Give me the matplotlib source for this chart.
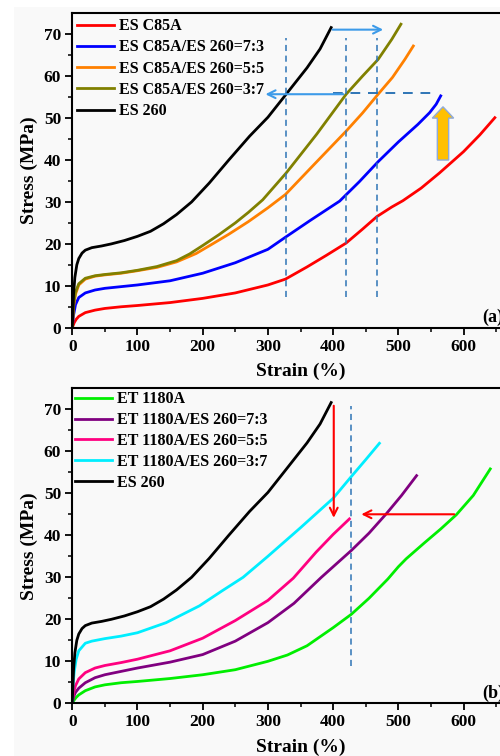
import numpy as np
import matplotlib
matplotlib.use('Agg')
import matplotlib.pyplot as plt
from matplotlib.patches import FancyArrow, Rectangle

plt.rcParams['font.family'] = ['Liberation Serif', 'DejaVu Serif']
plt.rcParams['font.weight'] = 'bold'

# ---- panel (a) data: strain (%) / stress (MPa)
es260_x = [0, 1, 2, 4, 7, 10, 15, 20, 30, 45, 60, 80, 100, 120, 140, 160, 183, 210, 240, 272, 300, 328, 360, 380, 397]
es260_y = [0, 4, 8, 12, 15, 16.5, 17.8, 18.5, 19.1, 19.5, 20, 20.8, 21.8, 23, 24.8, 27, 30, 34.5, 40, 45.7, 50.2, 55.7, 62, 66.5, 71.6]

c85_x = [0, 3, 6, 10, 20, 35, 50, 75, 100, 150, 200, 250, 300, 327, 360, 390, 420, 445, 467, 490, 507, 535, 563, 600, 625, 648]
c85_y = [0, 1.2, 2, 2.7, 3.6, 4.2, 4.6, 5, 5.3, 6, 7, 8.3, 10.2, 11.6, 14.5, 17.3, 20.2, 23.5, 26.5, 28.8, 30.3, 33.3, 36.9, 42, 46, 50.1]

c73_x = [0, 2, 5, 10, 20, 35, 50, 75, 100, 150, 200, 250, 300, 327, 365, 410, 440, 469, 500, 530, 548, 558, 565]
c73_y = [0, 3, 5.5, 7.2, 8.3, 9, 9.4, 9.8, 10.2, 11.2, 13, 15.5, 18.7, 21.6, 25.6, 30.2, 34.8, 39.6, 44.3, 48.5, 51.3, 53.3, 55.3]

c55_x = [0, 2, 5, 10, 20, 35, 50, 75, 100, 130, 160, 190, 213, 240, 270, 300, 327, 370, 420, 445, 469, 491, 510, 523]
c55_y = [0, 5, 8, 10.2, 11.6, 12.3, 12.6, 13, 13.6, 14.4, 15.7, 17.7, 19.8, 22.3, 25.3, 28.6, 31.8, 38.8, 46.9, 51.2, 55.7, 59.7, 64, 67.2]

c37_x = [0, 2, 5, 10, 20, 35, 50, 75, 100, 130, 160, 180, 200, 225, 250, 270, 292, 328, 375, 420, 445, 469, 490, 504]
c37_y = [0, 5.5, 8.5, 10.5, 11.8, 12.4, 12.7, 13.1, 13.7, 14.6, 16, 17.6, 19.6, 22.2, 25, 27.5, 30.5, 36.9, 46.2, 55.7, 60, 64, 68.8, 72.4]

# ---- panel (b) data
et_x = [0, 3, 6, 10, 20, 35, 50, 75, 100, 150, 200, 250, 300, 330, 360, 400, 428, 455, 484, 500, 512, 540, 565, 589, 615, 641]
et_y = [0, 0.8, 1.4, 2, 3, 3.9, 4.4, 4.9, 5.2, 5.9, 6.8, 8, 10, 11.5, 13.7, 18, 21.2, 25, 29.6, 32.5, 34.4, 38.2, 41.5, 44.9, 49.5, 55.8]

e73_x = [0, 2, 5, 10, 20, 35, 50, 75, 100, 150, 200, 250, 300, 340, 382, 428, 455, 482, 505, 528]
e73_y = [0, 1.5, 2.6, 3.6, 4.9, 6.1, 6.8, 7.6, 8.4, 9.8, 11.6, 14.8, 19.2, 23.8, 30, 36.4, 40.5, 45.2, 49.5, 54.2]

e55_x = [0, 2, 5, 10, 20, 35, 50, 75, 100, 150, 200, 250, 300, 339, 374, 400, 425]
e55_y = [0, 2.5, 4.2, 5.8, 7.3, 8.4, 9, 9.7, 10.5, 12.5, 15.5, 19.7, 24.5, 29.8, 36, 40.2, 43.9]

e37_x = [0, 1, 3, 6, 10, 20, 30, 50, 75, 100, 144, 195, 230, 262, 300, 350, 400, 428, 450, 471]
e37_y = [0, 4, 7.5, 10.5, 12.5, 14.3, 14.8, 15.4, 16, 16.8, 19.2, 23.2, 26.8, 30, 35, 41.8, 48.8, 54, 58, 61.9]

labels_a = ['ES C85A', 'ES C85A/ES 260=7:3', 'ES C85A/ES 260=5:5', 'ES C85A/ES 260=3:7', 'ES 260']
labels_b = ['ET 1180A', 'ET 1180A/ES 260=7:3', 'ET 1180A/ES 260=5:5', 'ET 1180A/ES 260=3:7', 'ES 260']
colors_a = ['#ff0000', '#0000ff', '#ff8000', '#808000', '#000000']
colors_b = ['#00ee00', '#800080', '#ff0080', '#00eeff', '#000000']

# annotation positions
vlines_a = [327, 420, 467]
vline_b = 428

fig = plt.figure(figsize=(5, 7.56), dpi=100, facecolor='#f9f9f9')
fig.patches.append(Rectangle((0, 0), 0.027, 1, transform=fig.transFigure, fc='white', ec='none', zorder=0))
fig.patches.append(Rectangle((0, 0.991), 1, 0.01, transform=fig.transFigure, fc='white', ec='none', zorder=0))

ax1 = fig.add_axes([0.1445, 0.5665, 0.913, 0.4159])
ax2 = fig.add_axes([0.1445, 0.0697, 0.913, 0.4167])

def style(ax, tag):
    ax.set_facecolor('#f9f9f9')
    ax.set_xlim(0, 700)
    ax.set_ylim(0, 75)
    ax.set_xticks(np.arange(0, 601, 100))
    ax.set_xticks(np.arange(50, 701, 100), minor=True)
    ax.set_yticks(np.arange(0, 71, 10))
    ax.set_yticks(np.arange(5, 75, 10), minor=True)
    ax.tick_params(which='major', direction='out', length=5, width=1.3, labelsize=12.5, pad=3)
    ax.tick_params(which='minor', direction='out', length=3, width=1.1)
    for s in ax.spines.values():
        s.set_linewidth(1.5)
    ax.set_xlabel('Strain (%)', fontsize=14, fontweight='bold', labelpad=6)
    ax.set_ylabel('Stress (MPa)', fontsize=14, fontweight='bold', labelpad=4)
    ax.text(629, 0.3, tag, fontsize=13, fontweight='bold', ha='left', va='bottom')

# (a)
series_a = [(c85_x, c85_y), (c73_x, c73_y), (c55_x, c55_y), (c37_x, c37_y), (es260_x, es260_y)]
for (x, y), c, l in zip(series_a, colors_a, labels_a):
    ax1.plot(x, y, color=c, lw=2, label=l)
style(ax1, '(a)')
ax1.legend(loc='upper left', frameon=False, handlelength=2.3, handletextpad=0.3,
           labelspacing=0.33, borderaxespad=0.2, borderpad=0.1, prop={'weight': 'bold', 'size': 11.5})

for v in vlines_a:
    ax1.plot([v, v], [7.4, 69.2], ls='--', color='#2e75b6', lw=1.1, dashes=(4, 3))
ax1.plot([400, 552], [56.1, 56.1], ls='--', color='#2e75b6', lw=1.4, dashes=(5, 4))
ax1.annotate('', xy=(292, 55.7), xytext=(420, 55.7),
             arrowprops=dict(arrowstyle='->', color='#3d9be9', lw=1.5, mutation_scale=14))
ax1.annotate('', xy=(481, 71.1), xytext=(395, 71.1),
             arrowprops=dict(arrowstyle='->', color='#3d9be9', lw=1.5, mutation_scale=14))
ax1.add_patch(FancyArrow(568.5, 40, 0, 12.7, width=17.4, head_width=32.7, head_length=2.7,
                         length_includes_head=True, fc='#ffc000', ec='#8eaadb', lw=1))

# (b)
series_b = [(et_x, et_y), (e73_x, e73_y), (e55_x, e55_y), (e37_x, e37_y), (es260_x, es260_y)]
for (x, y), c, l in zip(series_b, colors_b, labels_b):
    ax2.plot(x, y, color=c, lw=2, label=l)
style(ax2, '(b)')
ax2.legend(loc='upper left', frameon=False, handlelength=2.3, handletextpad=0.3,
           labelspacing=0.3, borderaxespad=0.1, borderpad=0.1, prop={'weight': 'bold', 'size': 11.5})

ax2.plot([vline_b, vline_b], [8.8, 70.7], ls='--', color='#2e75b6', lw=1.1, dashes=(4, 3))
ax2.annotate('', xy=(401, 43.5), xytext=(401, 71.5),
             arrowprops=dict(arrowstyle='->', color='#ff0000', lw=1.5, mutation_scale=14))
ax2.annotate('', xy=(439, 45), xytext=(590, 45),
             arrowprops=dict(arrowstyle='->', color='#ff0000', lw=1.5, mutation_scale=14))

fig.savefig('out.png', dpi=100, facecolor=fig.get_facecolor())
